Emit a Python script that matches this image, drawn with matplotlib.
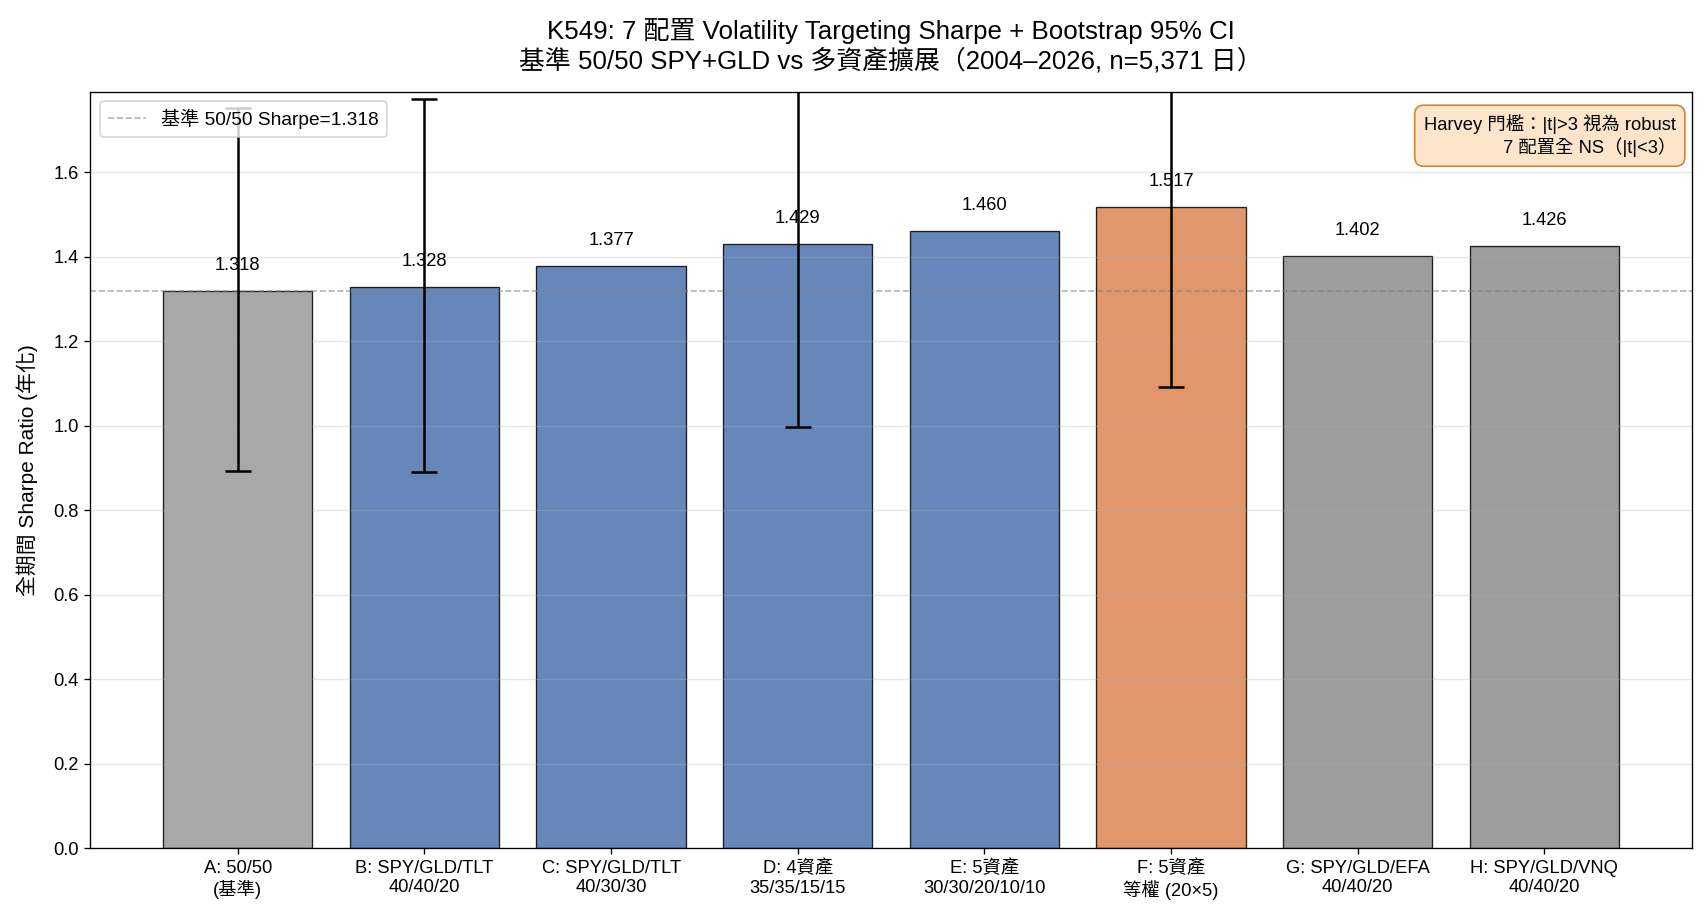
import numpy as np
import matplotlib
matplotlib.use("Agg")
import matplotlib.pyplot as plt

plt.rcParams['font.family'] = ['Liberation Sans', 'Noto Sans CJK TC', 'DejaVu Sans']
plt.rcParams['axes.unicode_minus'] = False

# data
labels = ['A: 50/50\n(基準)', 'B: SPY/GLD/TLT\n40/40/20', 'C: SPY/GLD/TLT\n40/30/30',
          'D: 4資產\n35/35/15/15', 'E: 5資產\n30/30/20/10/10', 'F: 5資產\n等權 (20×5)',
          'G: SPY/GLD/EFA\n40/40/20', 'H: SPY/GLD/VNQ\n40/40/20']
sharpe = [1.318, 1.328, 1.377, 1.429, 1.460, 1.517, 1.402, 1.426]
ci_lo = [0.893, 0.890, None, 0.997, None, 1.092, None, None]
ci_hi = [1.752, 1.772, None, 1.87, None, 1.95, None, None]
colors = ['#999999', '#4C72B0', '#4C72B0', '#4C72B0', '#4C72B0', '#DD8452', '#8c8c8c', '#8c8c8c']
baseline = sharpe[0]

fig = plt.figure(figsize=(1708 / 120, 917 / 120), dpi=120)
ax = fig.add_subplot(1, 1, 1)
fig.subplots_adjust(left=0.0529, right=0.9905, bottom=0.0752, top=0.9)

x = np.arange(len(labels))
bars = ax.bar(x, sharpe, 0.8, color=colors, alpha=0.85, edgecolor='black', linewidth=0.8)

# bootstrap CI where available
idx = [i for i in range(len(sharpe)) if ci_lo[i] is not None]
err_lo = [sharpe[i] - ci_lo[i] for i in idx]
err_hi = [ci_hi[i] - sharpe[i] for i in idx]
ax.errorbar(x[idx], [sharpe[i] for i in idx], yerr=[err_lo, err_hi], fmt='none',
            ecolor='black', elinewidth=1.5, capsize=8, capthick=1.5, zorder=4)

for i, v in enumerate(sharpe):
    ax.text(x[i], v + 0.04, f'{v:.3f}', ha='center', va='bottom', fontsize=11)

ax.axhline(baseline, color='gray', linestyle='--', linewidth=1, alpha=0.6,
           label=f'基準 50/50 Sharpe={baseline:.3f}')

ax.set_xticks(x)
ax.set_xticklabels(labels, fontsize=11)
ax.tick_params(axis='y', labelsize=11)
ax.set_ylabel('全期間 Sharpe Ratio (年化)', fontsize=12.5, labelpad=9)
ax.set_ylim(0, max(sharpe) * 1.18)
ax.grid(axis='y', alpha=0.3)
ax.set_title('K549: 7 配置 Volatility Targeting Sharpe + Bootstrap 95% CI\n'
             '基準 50/50 SPY+GLD vs 多資產擴展（2004–2026, n=5,371 日）', fontsize=15.5, pad=14)
ax.legend(loc='upper left', fontsize=11.5)

ax.text(0.99, 0.97, 'Harvey 門檻：|t|>3 視為 robust\n7 配置全 NS（|t|<3）',
        transform=ax.transAxes, ha='right', va='top', fontsize=11, multialignment='right',
        bbox=dict(boxstyle='round,pad=0.5', facecolor='#FDE5CC', edgecolor='#D9822B'))

fig.savefig('out.png', dpi=120)
